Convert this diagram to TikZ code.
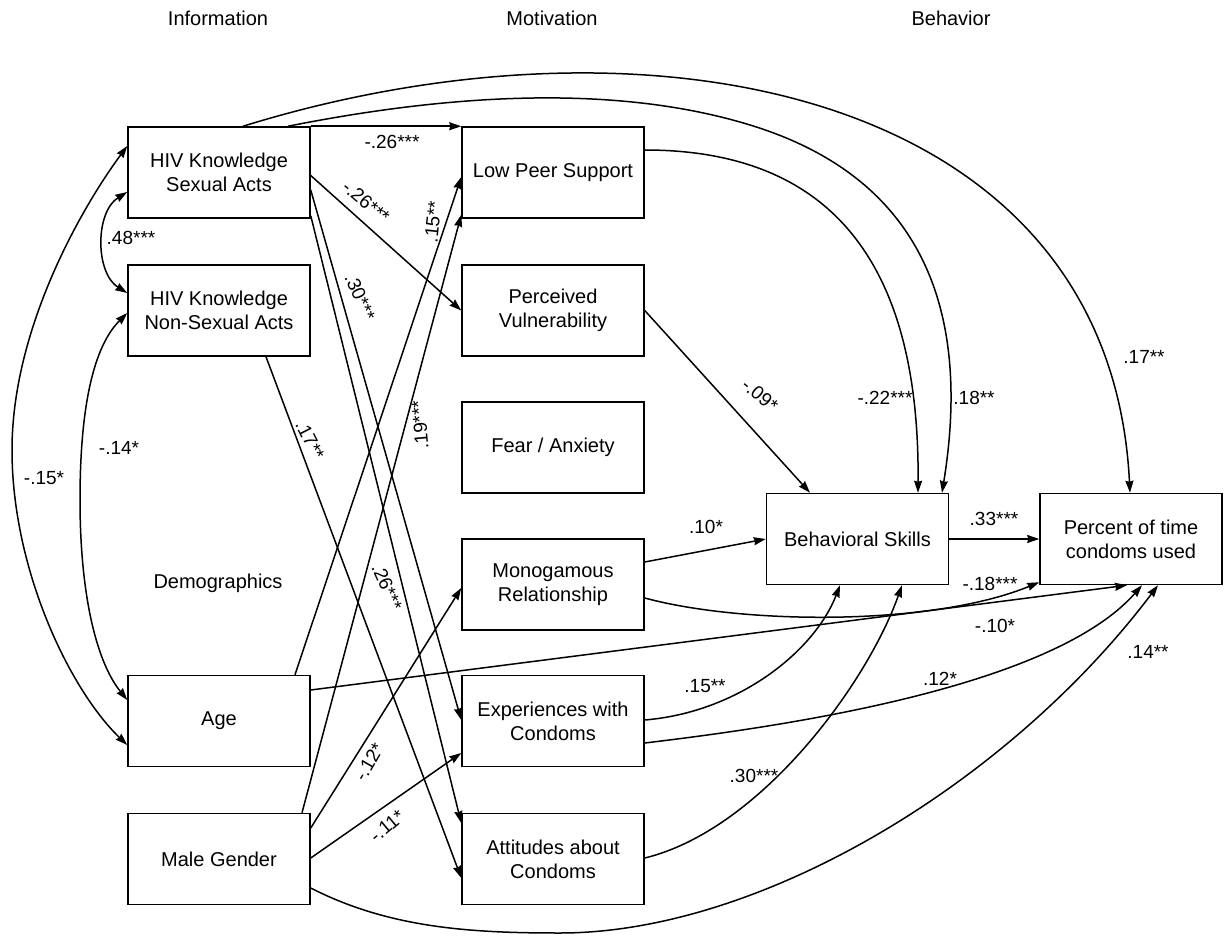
\documentclass[tikz,border=0pt]{standalone}
\usepackage{fontspec}
\setmainfont{Liberation Sans}
\usetikzlibrary{arrows.meta,calc}
\begin{document}
\begin{tikzpicture}[x=1pt,y=-1pt,
  box/.style={draw, line width=1.5pt, minimum width=182pt, minimum height=91pt, align=center, font=\fontsize{20}{24}\selectfont, inner sep=0pt},
  lab/.style={font=\fontsize{19}{22}\selectfont, inner sep=1pt},
  ttl/.style={font=\fontsize{20}{24}\selectfont},
  arr/.style={line width=1.5pt, -{Stealth[length=12pt,width=8pt,inset=1pt]}},
  darr/.style={line width=1.5pt, {Stealth[length=12pt,width=8pt,inset=1pt]}-{Stealth[length=12pt,width=8pt,inset=1pt]}}
]
\useasboundingbox (0,0) rectangle (1226,941);

% titles
\node[ttl] (tinfo) at (218,18) {Information};
\node[ttl] (tmot) at (552,18) {Motivation};
\node[ttl] (tbeh) at (951,18) {Behavior};
\node[ttl] (tdemo) at (218,583) {Demographics};

% boxes
\node[box] (ks) at (219,172.5) {HIV Knowledge\\Sexual Acts};
\node[box] (kns) at (219,310.5) {HIV Knowledge\\Non-Sexual Acts};
\node[box] (age) at (219,721) {Age};
\node[box] (male) at (219,859) {Male Gender};
\node[box] (lps) at (553,172.5) {Low Peer Support};
\node[box] (pv) at (553,310.5) {Perceived\\Vulnerability};
\node[box] (fear) at (553,447.5) {Fear / Anxiety};
\node[box] (mono) at (553,584.5) {Monogamous\\Relationship};
\node[box] (exp) at (553,721) {Experiences with\\Condoms};
\node[box] (att) at (553,859) {Attitudes about\\Condoms};
\node[box] (bs) at (857.5,539) {Behavioral Skills};
\node[box] (pct) at (1131,539) {Percent of time\\condoms used};

% left correlations
\draw[darr] ($(ks.west)+(0,19.5)$) .. controls (95,212) and (95,273) .. ($(kns.west)+(0,-17.5)$);
\draw[darr] ($(ks.west)+(0,-26.5)$) .. controls (80,210) and (12,330) .. (12,450) .. controls (12,570) and (70,690) .. ($(age.west)+(0,24)$);
\draw[darr] ($(kns.west)+(0,2.5)$) .. controls (90,350) and (80,420) .. (80,500) .. controls (80,590) and (95,660) .. ($(age.west)+(0,-21)$);

% information -> motivation
\draw[arr] (ks.north east) -- (lps.north west);
\draw[arr] ($(ks.east)+(0,3)$) -- (pv.west);
\draw[arr] ($(ks.east)+(0,17.5)$) -- ($(exp.west)+(0,-1)$);
\draw[arr] ($(ks.south east)+(0,-3)$) -- ($(att.west)+(0,-36)$);
\draw[arr] ($(kns.south)+(47,0)$) -- ($(att.west)+(0,19)$);
\draw[arr] ($(age.north)+(76,0)$) -- ($(lps.west)+(0,4.5)$);
\draw[arr] ($(male.north)+(83,0)$) -- ($(lps.south west)+(0,-4)$);
\draw[arr] ($(male.east)+(0,-31)$) -- ($(mono.west)+(0,3.5)$);
\draw[arr] ($(male.east)+(0,-1)$) -- ($(exp.west)+(0,32)$);

% to behavioral skills
\draw[arr] (pv.east) -- ($(bs.north)+(-47.5,0)$);
\draw[arr] ($(lps.east)+(0,-22.5)$) .. controls (820,150) and (920,250) .. ($(bs.north)+(60.5,0)$);
\draw[arr] ($(ks.north)+(69,0)$) .. controls (420,100) and (600,79) .. (750,125) .. controls (930,180) and (970,320) .. ($(bs.north)+(84.5,0)$);
\draw[arr] ($(mono.east)+(0,-22.5)$) -- (bs.west);
\draw[arr] ($(exp.east)+(0,-1)$) .. controls (740,712) and (815,650) .. ($(bs.south)+(-17.5,0)$);
\draw[arr] ($(att.east)+(0,-1)$) .. controls (760,830) and (867,684) .. ($(bs.south)+(44.5,0)$);

% to percent
\draw[arr] (bs.east) -- (pct.west);
\draw[arr] ($(ks.north)+(24,0)$) .. controls (650,0) and (1110,90) .. ($(pct.north)+(-1,0)$);
\draw[arr] ($(mono.east)+(0,13.5)$) .. controls (740,624) and (930,627) .. ($(pct.south west)+(0,-3)$);
\draw[arr] ($(age.east)+(0,-31)$) -- ($(pct.south)+(-4,0)$);
\draw[arr] ($(exp.east)+(0,22)$) .. controls (770,728) and (1050,690) .. ($(pct.south)+(11,0)$);
\draw[arr] ($(male.east)+(0,29)$) .. controls (389,928) and (470,933) .. (560,933) .. controls (760,933) and (1008,784) .. ($(pct.south)+(27,0)$);

% labels
\node[lab] (l1) at (392,142) {-.26***};
\node[lab, rotate=-40] (l2) at (366,202) {-.26***};
\node[lab, rotate=-66] (l3) at (360,297) {.30***};
\node[lab, rotate=-66] (l4) at (387,587) {.26***};
\node[lab, rotate=-63] (l5) at (310,440) {.17**};
\node[lab, rotate=84] (l6) at (433,222) {.15**};
\node[lab, rotate=95] (l7) at (420,425) {.19***};
\node[lab, rotate=60] (l8) at (369,762) {-.12*};
\node[lab, rotate=40] (l9) at (387,826) {-.11*};
\node[lab, rotate=-40] (l10) at (760,395) {-.09*};
\node[lab] (l11) at (131,238) {.48***};
\node[lab] (l12) at (44,478) {-.15*};
\node[lab] (l13) at (119,448) {-.14*};
\node[lab] (l14) at (885,398) {-.22***};
\node[lab] (l15) at (974,398) {.18**};
\node[lab] (l16) at (1144,357) {.17**};
\node[lab] (l17) at (706,527) {.10*};
\node[lab] (l18) at (994,519) {.33***};
\node[lab] (l19) at (990,584) {-.18***};
\node[lab] (l20) at (995,626) {-.10*};
\node[lab] (l21) at (705,686) {.15**};
\node[lab] (l22) at (940,679) {.12*};
\node[lab] (l23) at (754,776) {.30***};
\node[lab] (l24) at (1148,652) {.14**};
\end{tikzpicture}
\end{document}
